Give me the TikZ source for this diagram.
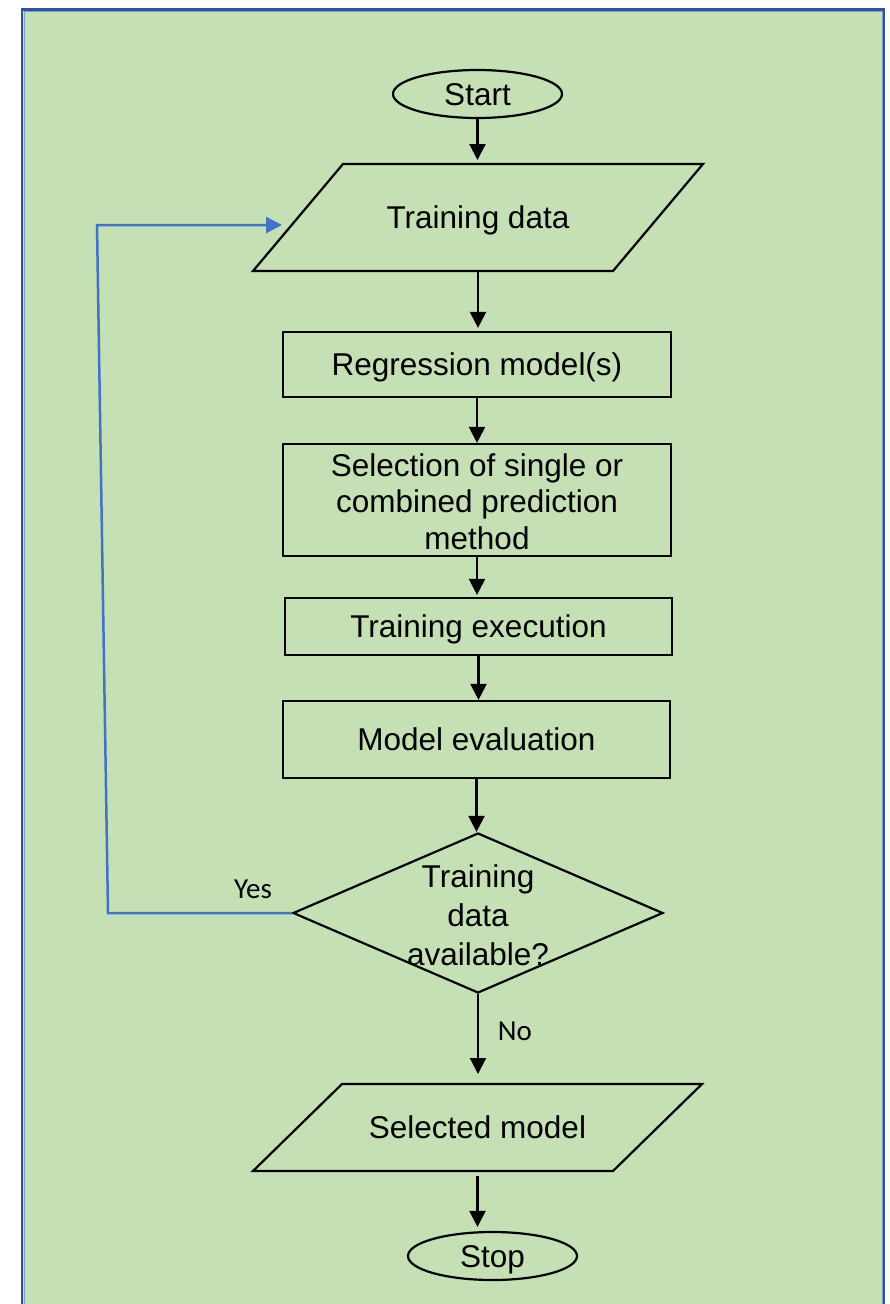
\documentclass[tikz,border=0pt]{standalone}
\usepackage{fontspec}
\setmainfont{Liberation Sans}
\newfontfamily\calfont{Carlito}
\usetikzlibrary{shapes.geometric,arrows.meta}
\definecolor{panelgreen}{HTML}{C5E0B4}
\definecolor{framedark}{HTML}{2F5597}
\definecolor{framelight}{HTML}{7F9CD0}
\definecolor{loopblue}{HTML}{4472C4}
\tikzset{
  base/.style={draw=black, line width=2.2pt, inner sep=0pt, align=center,
    text depth=0pt, font=\fontsize{31.5}{36.5}\selectfont},
  terminal/.style={base, ellipse, minimum width=169pt, minimum height=48pt},
  process/.style={base, rectangle, minimum width=388pt},
  io/.style={base, draw=none, rectangle, outer sep=0pt},
  outline/.style={draw=black, line width=2.2pt, line join=miter},
  decision/.style={base, diamond, minimum width=370pt, minimum height=160pt},
  qtext/.style={inner sep=0pt, align=center, text depth=0pt, font=\fontsize{31.5}{39}\selectfont},
  flow/.style={draw=black, line width=2.2pt, -{Triangle[length=16pt,width=16pt]}},
  loopback/.style={draw=loopblue, line width=2.5pt, -{Triangle[length=16pt,width=16pt]}},
  answer/.style={inner sep=0pt, anchor=base, font=\calfont\fontsize{29}{34}\selectfont},
}
\begin{document}
\begin{tikzpicture}[x=1pt, y=-1pt]
  % page and framed green panel
  \clip (0,0) rectangle (889,1304);
  \fill[white] (0,0) rectangle (889,1304);
  \fill[panelgreen] (22,9) rectangle (884,1340);
  \draw[framedark, line width=2.5pt] (22.2,9.3) rectangle (883.8,1340);
  \draw[framelight, line width=1pt] (24,11) rectangle (882,1340);

  % flowchart nodes
  \node[terminal] (start) at (477.5,94) {Start};
  \node[io, minimum width=450pt, minimum height=107pt] (tdata) at (478,217.5) {Training data};
  \node[process, minimum height=65pt] (reg) at (477,364.5) {Regression model(s)};
  \node[process, minimum height=112pt, text height=98pt] (selm) at (477,500)
       {Selection of single or\\combined prediction\\method};
  \node[process, minimum width=387pt, minimum height=57pt] (exe) at (478.5,626.5) {Training execution};
  \node[process, minimum width=387pt, minimum height=77pt] (eval) at (476.5,739.5) {Model evaluation};
  \node[decision] (dec) at (478,913) {};
  \node[qtext] (dectext) at (478,915.5) {Training\\data\\available?};
  \node[io, minimum width=449pt, minimum height=87pt] (chosen) at (477.5,1127.5) {Selected model};
  \node[terminal] (stop) at (492.5,1256) {Stop};

  % parallelogram outlines of the data nodes
  \draw[outline] ([xshift=90pt]tdata.north west) -- (tdata.north east)
     -- ([xshift=-90pt]tdata.south east) -- (tdata.south west) -- cycle;
  \draw[outline] ([xshift=89pt]chosen.north west) -- (chosen.north east)
     -- ([xshift=-89pt]chosen.south east) -- (chosen.south west) -- cycle;

  % branch labels
  \node[answer] (yes) at (253,898) {Yes};
  \node[answer] (no) at (515,1040) {No};

  % main flow
  \draw[flow, shorten >=4pt] (start.south) -- (start.south |- tdata.north);
  \draw[flow, shorten >=3pt] (tdata.south) -- (tdata.south |- reg.north);
  \draw[flow] (reg.south) -- (reg.south |- selm.north);
  \draw[flow, shorten >=2pt] (selm.south) -- (selm.south |- exe.north);
  \draw[flow] (exe.south) -- (exe.south |- eval.north);
  \draw[flow] (eval.south) -- (eval.south |- dec.north);
  \draw[flow, shorten >=10pt] (dec.south) -- (dec.south |- chosen.north);
  \draw[flow, shorten <=5pt, shorten >=4pt] (chosen.south) -- (chosen.south |- stop.north);

  % loop back to the training data
  \coordinate (loopA) at (108,913);
  \coordinate (loopB) at (97,225);
  \coordinate (loopC) at (282,225);
  \draw[loopback] (dec.west) -- (loopA) -- (loopB) -- (loopC);
\end{tikzpicture}
\end{document}
